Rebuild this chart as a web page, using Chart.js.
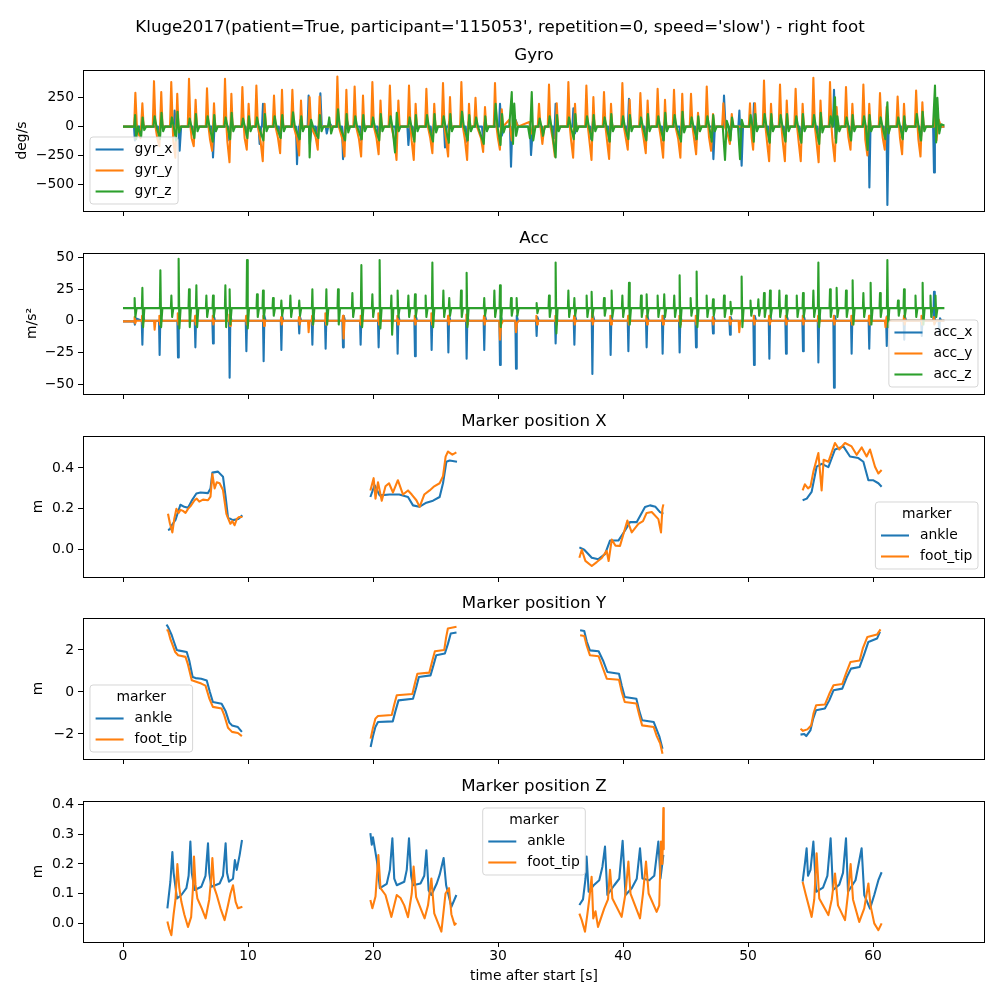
<!DOCTYPE html>
<html><head><meta charset="utf-8">
<script src="https://cdn.jsdelivr.net/npm/chart.js@4.4.0/dist/chart.umd.min.js"></script>
<style>
html,body{margin:0;padding:0;background:#fff;}
#fig{position:relative;width:1000px;height:1000px;overflow:hidden;background:#fff;}
canvas{position:absolute;left:0;}
</style></head><body><div id="fig"></div>
<script>
// ---------- DATA ----------
const xTicks = [0,10,20,30,40,50,60];
const xTickLabels = ['0','10','20','30','40','50','60'];
const gyroTicks = [250,0,-250,-500];
const gyroTickLabels = ['250','0','\u2212250','\u2212500'];
const accTicks = [50,25,0,-25,-50];
const accTickLabels = ['50','25','0','\u221225','\u221250'];
const posXTicks = [0.4,0.2,0.0];
const posXTickLabels = ['0.4','0.2','0.0'];
const posYTicks = [2,0,-2];
const posYTickLabels = ['2','0','\u22122'];
const posZTicks = [0.4,0.3,0.2,0.1,0.0];
const posZTickLabels = ['0.4','0.3','0.2','0.1','0.0'];

const gyrX = [[0,0],[0.88,0],[0.95,-120],[1.05,20],[1.15,0],[1.35,0],[1.42,-40],[1.55,30],[1.7,0],
[2.8,0],[2.9,-60],[3.05,40],[3.2,0],
[4.05,0],[4.13,140],[4.25,0],[4.45,0],[4.53,-209],[4.65,0],
[5.57,0],[5.65,-70],[5.8,40],[5.95,0],
[7.12,0],[7.2,-267],[7.32,0],
[8.42,0],[8.5,-120],[8.65,50],[8.8,0],
[9.82,0],[9.9,-80],[10.05,40],[10.2,0],
[10.85,0],[10.93,-150],[11.05,0],[11.12,0],[11.2,198],[11.35,0],
[12.47,0],[12.55,-90],[12.7,50],[12.85,0],
[13.84,0],[13.92,-326],[14.05,0],[14.12,0],[14.2,60],[14.35,0],
[14.77,0],[14.85,270],[14.95,-150],[15.1,0],[15.42,0],[15.5,-80],[15.6,0],[15.71,0],[15.79,290],[15.9,0],
[16.22,0],[16.3,-60],[16.5,40],[16.7,0],
[17.52,0],[17.6,-282],[17.75,0],[17.82,0],[17.9,60],[18.05,0],
[18.97,0],[19.05,-120],[19.2,40],[19.35,0],
[20.37,0],[20.45,-100],[20.6,50],[20.75,0],
[21.77,0],[21.85,-100],[22.0,40],[22.15,0],
[22.75,0],[22.83,-160],[22.95,0],[23.17,0],[23.25,-90],[23.4,40],[23.55,0],
[24.62,0],[24.7,-120],[24.9,40],[25.0,0],
[25.68,0],[25.76,-180],[25.9,0],[26.02,0],[26.1,40],[26.25,0],
[27.42,0],[27.5,-130],[27.65,40],[27.8,0],
[28.72,0],[28.8,-100],[28.95,40],[29.1,0],
[30.08,0],[30.16,198],[30.3,-80],[30.5,0],[30.96,0],[31.04,-349],[31.15,0],[31.32,0],[31.4,60],[31.6,0],[32.56,0],[32.64,-247],[32.8,0],
[33.52,0],[33.6,-60],[33.75,0],
[34.42,0],[34.5,-100],[34.61,198],[34.75,0],
[35.95,0],[36.03,160],[36.15,-60],[36.3,0],
[37.37,0],[37.45,-110],[37.6,50],[37.75,0],
[38.82,0],[38.9,-130],[39.05,40],[39.2,0],
[40.27,0],[40.35,-90],[40.48,241],[40.6,0],
[41.72,0],[41.8,-110],[41.95,40],[42.1,0],
[43.12,0],[43.2,-120],[43.35,40],[43.5,0],
[44.52,0],[44.6,-100],[44.75,40],[44.9,0],
[45.77,0],[45.85,-120],[46.0,30],[46.15,0],
[47.15,0],[47.23,-282],[47.35,0],
[48.0,0],[48.08,270],[48.2,0],[48.47,0],[48.55,-90],[48.7,0],
[49.23,0],[49.31,140],[49.49,-340],[49.6,0],
[50.4,0],[50.48,203],[50.6,0],
[51.62,0],[51.7,-130],[51.85,40],[52.0,0],
[52.87,0],[52.95,-120],[53.1,40],[53.25,0],
[54.12,0],[54.2,-120],[54.35,40],[54.5,0],
[55.57,0],[55.65,-130],[55.8,40],[55.95,0],
[56.8,0],[56.88,320],[57.0,-100],[57.15,0],
[58.12,0],[58.2,-100],[58.35,40],[58.5,0],
[59.64,0],[59.71,-529],[59.8,0],
[60.87,0],[60.95,-100],[61.08,0],[61.15,-680],[61.25,0],
[62.27,0],[62.35,-100],[62.5,40],[62.65,0],
[63.72,0],[63.8,-130],[63.95,40],[64.1,0],
[64.81,0],[64.88,-398],[64.95,0],[65.02,0],[65.1,150],[65.3,0],[65.71,0]];

const gyrY = [[0,0],[0.89,0],[0.99,294],[1.11,0],[1.23,-60],[1.40,-100],[1.55,203],[1.65,0],
[2.38,0],[2.48,395],[2.60,0],[2.74,-100],[2.91,-170],[3.06,300],[3.16,0],
[3.76,0],[3.86,387],[3.98,0],[4.02,-120],[4.19,-270],[4.34,285],[4.44,0],
[5.18,0],[5.28,416],[5.40,0],[5.49,-100],[5.66,-170],[5.81,233],[5.91,0],
[6.62,0],[6.72,334],[6.84,0],[6.96,-110],[7.13,-210],[7.28,203],[7.38,0],
[8.06,0],[8.16,416],[8.28,0],[8.35,-130],[8.52,-310],[8.67,285],[8.77,0],
[9.45,0],[9.55,343],[9.67,0],[9.73,-100],[9.90,-200],[10.05,198],[10.15,0],
[10.57,0],[10.67,358],[10.79,0],[11.01,-130],[11.18,-300],[11.33,198],[11.43,0],
[11.98,0],[12.08,270],[12.20,0],[12.40,-100],[12.57,-230],[12.72,320],[12.82,0],
[13.45,0],[13.55,320],[13.67,0],[13.92,-110],[14.09,-250],[14.24,227],[14.34,0],
[14.83,0],[14.93,256],[15.05,0],[15.41,-90],[15.58,-200],[15.73,262],[15.83,0],
[17.05,0],[17.15,436],[17.27,0],[17.55,-110],[17.72,-260],[17.87,320],[17.97,0],
[18.43,0],[18.53,349],[18.65,0],[18.88,-110],[19.05,-260],[19.20,270],[19.30,0],
[19.85,0],[19.95,387],[20.07,0],[20.28,-100],[20.45,-240],[20.60,227],[20.70,0],
[21.25,0],[21.35,358],[21.47,0],[21.71,-120],[21.88,-290],[22.03,227],[22.13,0],
[22.78,0],[22.88,358],[23.00,0],[23.09,-120],[23.26,-290],[23.41,198],[23.51,0],
[24.17,0],[24.27,328],[24.39,0],[24.58,-100],[24.75,-230],[24.90,198],[25.00,0],
[25.50,0],[25.60,378],[25.72,0],[25.84,-110],[26.01,-260],[26.16,256],[26.26,0],
[26.97,0],[27.07,387],[27.19,0],[27.36,-120],[27.53,-290],[27.68,198],[27.78,0],
[28.10,0],[28.20,250],[28.32,0],[28.64,-100],[28.81,-220],[28.96,170],[29.06,0],
[29.66,0],[29.76,378],[29.88,0],[29.98,-90],[30.15,-200],[30.30,150],[30.40,0],
[30.9,60],[31.1,-120],[31.3,80],[31.6,0],[32.5,40],[32.7,-60],[32.9,0],
[33.18,0],[33.28,198],[33.40,0],[33.55,-150],[33.70,0],
[33.98,0],[34.08,366],[34.20,0],[34.38,-110],[34.55,-260],[34.70,203],[34.80,0],
[35.53,0],[35.63,387],[35.75,0],[35.84,-110],[36.01,-270],[36.16,198],[36.26,0],
[36.97,0],[37.07,358],[37.19,0],[37.31,-120],[37.48,-290],[37.63,256],[37.73,0],
[38.38,0],[38.48,300],[38.60,0],[38.72,-120],[38.89,-280],[39.04,198],[39.14,0],
[39.85,0],[39.95,378],[40.07,0],[40.21,-90],[40.38,-200],[40.53,233],[40.63,0],
[41.29,0],[41.39,291],[41.51,0],[41.65,-100],[41.82,-230],[41.97,227],[42.07,0],
[42.67,0],[42.77,328],[42.89,0],[43.04,-110],[43.21,-270],[43.36,233],[43.46,0],
[43.98,0],[44.08,320],[44.20,0],[44.42,-110],[44.59,-270],[44.74,285],[44.84,0],
[45.34,0],[45.44,285],[45.56,0],[45.68,-100],[45.85,-240],[46.00,120],[46.10,0],
[46.60,0],[46.70,349],[46.82,0],[46.88,-90],[47.05,-210],[47.20,110],[47.30,0],
[47.93,0],[48.03,203],[48.15,0],[48.38,-70],[48.55,-150],[48.70,110],[48.80,0],
[50.06,0],[50.16,203],[50.24,0],[50.30,-100],[50.41,-200],[50.56,203],[50.66,0],
[51.18,0],[51.28,401],[51.40,0],[51.52,-130],[51.69,-300],[51.84,198],[51.94,0],
[52.46,0],[52.56,366],[52.68,0],[52.78,-130],[52.95,-300],[53.10,227],[53.20,0],
[53.71,0],[53.81,328],[53.93,0],[54.05,-130],[54.22,-300],[54.37,198],[54.47,0],
[55.13,0],[55.23,424],[55.35,0],[55.48,-130],[55.65,-310],[55.80,227],[55.90,0],
[56.46,0],[56.56,387],[56.68,0],[56.77,-130],[56.94,-300],[57.09,170],[57.19,0],
[57.74,0],[57.84,343],[57.96,0],[58.03,-90],[58.20,-200],[58.35,198],[58.45,0],
[59.13,0],[59.23,366],[59.35,0],[59.38,-110],[59.55,-250],[59.70,198],[59.80,0],
[60.46,0],[60.56,291],[60.68,0],[60.77,-90],[60.94,-200],[61.09,170],[61.19,0],
[61.87,0],[61.97,262],[62.09,0],[62.16,-100],[62.33,-240],[62.48,198],[62.58,0],
[63.35,0],[63.45,314],[63.57,0],[63.63,-110],[63.80,-260],[63.95,212],[64.05,0],
[64.86,0],[64.96,150],[65.08,-120],[65.25,60],[65.45,0],[65.71,0]];

const gyrZ = [[0,0],[0.9,0],[0.97,100],[1.05,-110],[1.2,0],[1.45,-90],[1.57,80],[1.7,-30],[1.85,0],
[2.43,0],[2.53,90],[2.68,0],[2.96,-110],[3.08,120],[3.21,-40],[3.36,0],
[3.81,0],[3.91,80],[4.06,0],[4.24,-120],[4.36,130],[4.49,-50],[4.64,0],
[5.23,0],[5.33,70],[5.48,0],[5.71,-100],[5.83,110],[5.96,-40],[6.11,0],
[6.67,0],[6.77,90],[6.92,0],[7.18,-130],[7.30,100],[7.43,-40],[7.58,0],
[8.11,0],[8.21,80],[8.36,0],[8.57,-110],[8.69,120],[8.82,-40],[8.97,0],
[9.50,0],[9.60,70],[9.75,0],[9.95,-100],[10.07,90],[10.20,-40],[10.35,0],
[10.62,0],[10.72,80],[10.87,0],[11.23,-120],[11.35,110],[11.48,-40],[11.63,0],
[12.03,0],[12.13,90],[12.28,0],[12.62,-100],[12.74,100],[12.87,-40],[13.02,0],
[13.50,0],[13.60,125],[13.75,0],[14.14,-110],[14.26,90],[14.39,-40],[14.54,0],
[14.88,0],[14.93,-267],[15.05,60],[15.2,0],[15.63,-100],[15.75,100],[15.88,-40],[16.03,0],
[16.4,0],[16.5,80],[16.65,-60],[16.8,0],
[17.10,0],[17.20,150],[17.35,0],[17.77,-120],[17.89,110],[18.02,-50],[18.17,0],
[18.48,0],[18.58,90],[18.73,0],[19.10,-110],[19.22,100],[19.35,-40],[19.50,0],
[19.90,0],[20.00,80],[20.15,0],[20.50,-120],[20.62,110],[20.75,-40],[20.90,0],
[21.30,0],[21.40,90],[21.55,0],[21.76,-224],[21.90,120],[22.05,-40],[22.20,0],
[22.83,0],[22.93,80],[23.08,0],[23.31,-130],[23.43,100],[23.56,-40],[23.71,0],
[24.22,0],[24.32,100],[24.47,0],[24.80,-130],[24.92,110],[25.05,-50],[25.20,0],
[25.55,0],[25.65,90],[25.80,0],[26.06,-140],[26.18,110],[26.31,-40],[26.46,0],
[27.02,0],[27.12,130],[27.27,0],[27.58,-120],[27.70,100],[27.83,-40],[27.98,0],
[28.15,0],[28.25,80],[28.40,0],[28.86,-150],[28.98,90],[29.11,-40],[29.26,0],
[29.71,0],[29.81,198],[29.96,0],[30.20,-160],[30.32,110],[30.45,-50],[30.60,0],
[30.9,0],[31.1,300],[31.2,-150],[31.3,200],[31.45,-80],[31.6,0],
[32.4,0],[32.55,-100],[32.7,300],[32.82,-120],[33.0,0],
[33.23,0],[33.33,70],[33.48,0],[33.6,-80],[33.75,0],
[34.03,0],[34.13,90],[34.28,0],[34.61,-267],[34.72,100],[34.85,-40],[35.0,0],
[35.58,0],[35.68,80],[35.83,0],[36.06,-110],[36.18,110],[36.31,-40],[36.46,0],
[37.02,0],[37.12,90],[37.27,0],[37.53,-120],[37.65,100],[37.78,-40],[37.93,0],
[38.43,0],[38.53,80],[38.68,0],[38.94,-130],[39.06,110],[39.19,-40],[39.34,0],
[39.90,0],[40.00,90],[40.15,0],[40.43,-110],[40.55,100],[40.68,-40],[40.83,0],
[41.34,0],[41.44,80],[41.59,0],[41.87,-120],[41.99,110],[42.12,-40],[42.27,0],
[42.72,0],[42.82,90],[42.97,0],[43.26,-120],[43.38,120],[43.51,-40],[43.66,0],
[44.03,0],[44.13,100],[44.28,0],[44.64,-130],[44.76,130],[44.89,-50],[45.04,0],
[45.39,0],[45.49,80],[45.64,0],[45.90,-110],[46.02,90],[46.15,-40],[46.30,0],
[46.65,0],[46.75,90],[46.90,0],[47.10,-130],[47.22,100],[47.35,-40],[47.50,0],
[47.98,0],[48.16,-290],[48.3,50],[48.45,0],[48.6,-120],[48.72,80],[48.85,0],
[49.2,0],[49.36,-282],[49.5,60],[49.65,0],
[50.11,0],[50.21,100],[50.36,0],[50.46,-130],[50.58,110],[50.71,-40],[50.86,0],
[51.23,0],[51.33,110],[51.48,0],[51.74,-140],[51.86,110],[51.99,-40],[52.14,0],
[52.51,0],[52.61,100],[52.76,0],[53.00,-130],[53.12,110],[53.25,-40],[53.40,0],
[53.76,0],[53.86,90],[54.01,0],[54.27,-140],[54.39,110],[54.52,-40],[54.67,0],
[55.18,0],[55.28,100],[55.43,0],[55.70,-150],[55.82,120],[55.95,-50],[56.10,0],
[56.51,0],[56.61,90],[56.76,0],[56.96,256],[57.05,-140],[57.15,90],[57.30,-40],[57.45,0],
[57.79,0],[57.89,80],[58.04,0],[58.25,-120],[58.37,100],[58.50,-40],[58.65,0],
[59.18,0],[59.28,90],[59.43,0],[59.57,-203],[59.72,100],[59.85,-40],[60.00,0],
[60.51,0],[60.61,80],[60.76,0],[60.99,-110],[61.15,212],[61.25,-60],[61.40,0],
[61.92,0],[62.02,80],[62.17,0],[62.38,-110],[62.50,90],[62.63,-40],[62.78,0],
[63.40,0],[63.50,110],[63.65,0],[63.85,-120],[63.97,130],[64.10,-40],[64.25,0],
[64.8,0],[64.96,358],[65.05,-137],[65.15,250],[65.3,-60],[65.45,20],[65.71,10]];

const accX = [[0,-0.5],[0.9,-0.5],[0.95,-3],[1.0,2],[1.5,0],[1.55,-19],[1.61,4],[1.71,0],[2.88,0],[2.93,-27],[2.99,4],[3.09,0],[4.35,0],[4.4,-29],[4.46,4],[4.56,0],[5.74,0],[5.79,-21],[5.85,4],[5.95,0],[7.15,0],[7.2,-18],[7.26,4],[7.36,0],[8.48,0],[8.53,-45],[8.59,4],[8.69,0],[9.82,0],[9.87,-24],[9.93,4],[10.03,0],[11.2,0],[11.25,-32],[11.31,4],[11.41,0],[12.62,0],[12.67,-23],[12.73,4],[12.83,0],[14.05,0],[14.1,-10],[14.16,3],[14.26,0],[15.1,0],[15.15,-19],[15.21,4],[15.31,0],[16.16,0],[16.21,-22],[16.27,4],[16.37,0],[17.55,0],[17.6,-21],[17.66,4],[17.76,0],[18.96,0],[19.01,-19],[19.07,4],[19.17,0],[20.4,0],[20.45,-21],[20.51,4],[20.61,0],[21.92,0],[21.97,-26],[22.03,4],[22.13,0],[23.31,0],[23.36,-28],[23.42,4],[23.52,0],[24.64,0],[24.69,-23],[24.75,4],[24.85,0],[25.98,0],[26.03,-25],[26.09,4],[26.19,0],[27.44,0],[27.49,-30],[27.55,4],[27.65,0],[28.85,0],[28.9,-23],[28.96,4],[29.06,0],[30.11,0],[30.16,-35],[30.22,4],[30.32,0],[31.39,0],[31.44,-38],[31.5,4],[31.6,0],[33.04,0],[33.09,-12],[33.15,3],[33.25,0],[34.56,0],[34.61,-18],[34.67,4],[34.77,0],[36.06,0],[36.11,-19],[36.17,4],[36.27,0],[37.5,0],[37.55,-42],[37.61,4],[37.71,0],[38.96,0],[39.01,-27],[39.07,4],[39.17,0],[40.38,0],[40.43,-24],[40.49,4],[40.59,0],[41.84,0],[41.89,-21],[41.95,4],[42.05,0],[43.12,0],[43.17,-26],[43.23,4],[43.33,0],[44.48,0],[44.53,-25],[44.59,4],[44.69,0],[45.79,0],[45.84,-21],[45.9,4],[46.0,0],[47.15,0],[47.2,-10],[47.26,3],[47.36,0],[48.51,0],[48.56,-11],[48.62,3],[48.72,0],[50.43,0],[50.48,-35],[50.54,4],[50.64,0],[51.66,0],[51.71,-30],[51.77,4],[51.87,0],[52.99,0],[53.04,-26],[53.1,4],[53.2,0],[54.35,0],[54.4,-24],[54.46,4],[54.56,0],[55.58,0],[55.63,-33],[55.69,4],[55.79,0],[56.83,0],[56.88,-53],[56.94,4],[57.04,0],[58.24,0],[58.29,-26],[58.35,4],[58.45,0],[59.65,0],[59.7,-22],[59.76,4],[59.86,0],[61.05,0],[61.1,-20],[61.16,4],[61.26,0],[62.45,0],[62.5,-15],[62.56,3],[62.66,0],[63.85,0],[63.9,-12],[63.96,3],[64.06,0],[64.83,0],[64.88,23],[64.94,-2],[65.04,0],[65.25,0],[65.3,-10],[65.36,2],[65.46,0],[65.71,0]];

const accY = [[0,-0.5],[0.9,-0.5],[0.93,3],[0.98,-2],[1.05,0],[1.5,0],[1.53,4],[1.58,-3],[1.65,0],[2.48,0],[2.53,-7],[2.6,0],[2.88,0],[2.91,4],[2.96,-3],[3.03,0],[4.35,0],[4.38,6],[4.43,-3],[4.5,0],[5.74,0],[5.77,4],[5.82,-3],[5.89,0],[7.15,0],[7.18,4],[7.23,-3],[7.3,0],[8.48,0],[8.51,5],[8.56,-4],[8.63,0],[9.82,0],[9.85,4],[9.9,-3],[9.97,0],[11.2,0],[11.23,4],[11.28,-4],[11.35,0],[12.62,0],[12.65,3],[12.7,-3],[12.77,0],[14.05,0],[14.08,3],[14.13,-3],[14.2,0],[14.8,0],[14.85,-9],[14.92,0],[15.1,0],[15.13,4],[15.18,-3],[15.25,0],[16.16,0],[16.19,6],[16.24,-3],[16.31,0],[17.55,0],[17.6,4],[17.65,-14],[17.72,0],[18.96,0],[18.99,4],[19.04,-3],[19.11,0],[20.4,0],[20.43,6],[20.48,-3],[20.55,0],[21.92,0],[21.95,4],[22.0,-3],[22.07,0],[23.31,0],[23.34,4],[23.39,-3],[23.46,0],[24.64,0],[24.67,6],[24.72,-3],[24.79,0],[25.98,0],[26.01,4],[26.06,-3],[26.13,0],[27.44,0],[27.47,5],[27.52,-3],[27.59,0],[28.85,0],[28.88,4],[28.93,-3],[29.0,0],[30.1,0],[30.16,-15],[30.25,-3],[30.4,0],[31.38,0],[31.44,-9],[31.52,-2],[31.65,0],[33.04,0],[33.07,4],[33.12,-3],[33.19,0],[34.56,0],[34.59,4],[34.64,-3],[34.71,0],[36.06,0],[36.09,4],[36.14,-3],[36.21,0],[37.5,0],[37.53,7],[37.58,-3],[37.65,0],[38.96,0],[38.99,4],[39.04,-3],[39.11,0],[40.38,0],[40.41,4],[40.46,-3],[40.53,0],[41.84,0],[41.87,4],[41.92,-3],[41.99,0],[43.12,0],[43.15,4],[43.2,-3],[43.27,0],[44.48,0],[44.51,4],[44.56,-3],[44.63,0],[45.79,0],[45.82,4],[45.87,-3],[45.94,0],[47.15,0],[47.18,3],[47.23,-3],[47.3,0],[48.51,0],[48.54,3],[48.59,-3],[48.66,0],[49.25,0],[49.3,-9],[49.38,0],[50.43,0],[50.46,4],[50.51,-3],[50.58,0],[51.66,0],[51.69,4],[51.74,-3],[51.81,0],[52.99,0],[53.02,4],[53.07,-3],[53.14,0],[54.35,0],[54.38,4],[54.43,-3],[54.5,0],[55.58,0],[55.61,4],[55.66,-3],[55.73,0],[56.83,0],[56.86,4],[56.91,-3],[56.98,0],[58.24,0],[58.27,4],[58.32,-3],[58.39,0],[59.65,0],[59.68,4],[59.73,-3],[59.8,0],[60.95,0],[61.0,-5],[61.08,3],[61.15,0],[62.45,0],[62.48,4],[62.53,-3],[62.6,0],[63.85,0],[63.88,4],[63.93,-3],[64.0,0],[64.83,0],[64.86,3],[64.91,-3],[64.98,0],[65.71,0]];

const accZ = [[0,10],[0.89,10],[0.93,18],[0.99,3],[1.09,10],[1.51,10],[1.55,26],[1.61,-5],[1.71,10],[2.95,10],[2.99,40],[3.05,-5],[3.15,10],[3.83,10],[3.87,20],[3.93,3],[4.03,10],[4.41,10],[4.45,49],[4.51,-6],[4.61,10],[5.24,10],[5.28,25],[5.34,-5],[5.44,10],[5.83,10],[5.87,28],[5.93,-5],[6.03,10],[6.63,10],[6.67,20],[6.73,3],[6.83,10],[7.16,10],[7.2,20],[7.26,3],[7.36,10],[8.15,10],[8.19,28],[8.25,-5],[8.35,10],[8.49,10],[8.53,25],[8.59,-3],[8.69,10],[9.88,10],[9.92,48],[9.98,-6],[10.08,10],[10.68,10],[10.72,21],[10.78,3],[10.88,10],[11.16,10],[11.2,24],[11.26,2],[11.36,10],[11.96,10],[12.0,18],[12.06,4],[12.16,10],[12.63,10],[12.67,16],[12.73,4],[12.83,10],[13.35,10],[13.39,20],[13.45,3],[13.55,10],[14.06,10],[14.1,16],[14.16,4],[14.26,10],[15.11,10],[15.15,25],[15.21,-3],[15.31,10],[16.23,10],[16.27,25],[16.33,-3],[16.43,10],[17.16,10],[17.2,25],[17.26,-3],[17.36,10],[18.31,10],[18.35,22],[18.41,3],[18.51,10],[19.03,10],[19.07,44],[19.13,-5],[19.23,10],[19.91,10],[19.95,21],[20.01,3],[20.11,10],[20.49,10],[20.53,48],[20.59,-6],[20.69,10],[21.43,10],[21.47,20],[21.53,-11],[21.63,10],[21.93,10],[21.97,24],[22.03,3],[22.13,10],[22.79,10],[22.83,20],[22.89,3],[22.99,10],[23.32,10],[23.36,21],[23.42,3],[23.52,10],[24.17,10],[24.21,20],[24.27,3],[24.37,10],[24.71,10],[24.75,46],[24.81,-5],[24.91,10],[25.59,10],[25.63,24],[25.69,3],[25.79,10],[26.06,10],[26.1,18],[26.16,4],[26.26,10],[27.0,10],[27.04,24],[27.1,3],[27.2,10],[27.45,10],[27.49,38],[27.55,-5],[27.65,10],[28.86,10],[28.9,18],[28.96,4],[29.06,10],[29.67,10],[29.71,24],[29.77,3],[29.87,10],[30.12,10],[30.16,28],[30.22,-5],[30.32,10],[31.0,10],[31.04,18],[31.1,4],[31.2,10],[31.45,10],[31.49,18],[31.55,4],[31.65,10],[33.05,10],[33.09,14],[33.15,6],[33.25,10],[34.04,10],[34.08,20],[34.14,3],[34.24,10],[34.57,10],[34.61,46],[34.67,-10],[34.77,10],[35.59,10],[35.63,24],[35.69,3],[35.79,10],[36.07,10],[36.11,18],[36.17,4],[36.27,10],[37.05,10],[37.09,20],[37.15,3],[37.25,10],[37.45,10],[37.49,23],[37.55,3],[37.65,10],[38.44,10],[38.48,18],[38.54,4],[38.64,10],[39.05,10],[39.09,24],[39.15,3],[39.25,10],[39.91,10],[39.95,20],[40.01,3],[40.11,10],[40.44,10],[40.48,30],[40.54,-3],[40.64,10],[41.4,10],[41.44,20],[41.5,3],[41.6,10],[41.85,10],[41.89,21],[41.95,3],[42.05,10],[42.73,10],[42.77,20],[42.83,3],[42.93,10],[43.26,10],[43.3,21],[43.36,3],[43.46,10],[44.06,10],[44.1,20],[44.16,3],[44.26,10],[44.49,10],[44.53,36],[44.59,-5],[44.69,10],[45.37,10],[45.41,18],[45.47,4],[45.57,10],[45.85,10],[45.89,39],[45.95,-5],[46.05,10],[46.65,10],[46.69,20],[46.75,3],[46.85,10],[47.16,10],[47.2,17],[47.26,4],[47.36,10],[48.04,10],[48.08,20],[48.14,3],[48.24,10],[48.56,10],[48.6,15],[48.66,5],[48.76,10],[49.45,10],[49.49,35],[49.55,-5],[49.65,10],[50.16,10],[50.2,16],[50.26,4],[50.36,10],[50.79,10],[50.83,17],[50.89,4],[50.99,10],[51.24,10],[51.28,22],[51.34,3],[51.44,10],[51.72,10],[51.76,24],[51.82,3],[51.92,10],[52.47,10],[52.51,24],[52.57,3],[52.67,10],[53.0,10],[53.04,20],[53.1,3],[53.2,10],[53.86,10],[53.9,20],[53.96,3],[54.06,10],[54.36,10],[54.4,22],[54.46,3],[54.56,10],[55.19,10],[55.23,24],[55.29,3],[55.39,10],[55.59,10],[55.63,46],[55.69,-5],[55.79,10],[56.52,10],[56.56,25],[56.62,3],[56.72,10],[57.05,10],[57.09,26],[57.15,3],[57.25,10],[57.8,10],[57.84,24],[57.9,3],[58.0,10],[58.33,10],[58.37,32],[58.43,-3],[58.53,10],[59.19,10],[59.23,22],[59.29,3],[59.39,10],[59.77,10],[59.81,30],[59.87,-3],[59.97,10],[60.52,10],[60.56,22],[60.62,3],[60.72,10],[61.11,10],[61.15,48],[61.21,-5],[61.31,10],[61.96,10],[62.0,16],[62.06,4],[62.16,10],[62.44,10],[62.48,25],[62.54,3],[62.64,10],[63.36,10],[63.4,20],[63.46,3],[63.56,10],[63.93,10],[63.97,30],[64.03,-3],[64.13,10],[64.56,10],[64.6,20],[64.66,3],[64.76,10],[64.96,10],[65.0,20],[65.06,3],[65.16,10],[65.71,10]];

const posXAnkle = [
 [[3.6,0.097],[3.75,0.1],[3.9,0.12],[4.2,0.146],[4.59,0.22],[4.9,0.21],[5.2,0.205],[5.5,0.24],[5.87,0.275],[6.2,0.28],[6.8,0.277],[7.0,0.3],[7.15,0.377],[7.6,0.382],[8.0,0.357],[8.21,0.259],[8.4,0.157],[8.8,0.145],[9.2,0.15],[9.55,0.168]],
 [[19.79,0.258],[20.13,0.316],[20.53,0.266],[21.33,0.27],[22.1,0.27],[22.8,0.258],[23.2,0.217],[23.7,0.21],[24.27,0.23],[24.8,0.24],[25.33,0.258],[25.6,0.325],[25.87,0.43],[26.13,0.436],[26.72,0.43]],
 [[36.51,0.012],[36.9,0.0],[37.5,-0.039],[38.03,-0.046],[38.56,-0.021],[38.96,0.045],[39.63,0.045],[40.16,0.094],[40.56,0.135],[41.09,0.135],[41.76,0.209],[42.16,0.217],[42.6,0.21],[42.96,0.184],[43.23,0.176]],
 [[54.37,0.242],[54.7,0.25],[55.09,0.283],[55.49,0.406],[55.9,0.42],[56.43,0.404],[56.96,0.49],[57.63,0.505],[58.16,0.456],[58.83,0.448],[59.23,0.43],[59.63,0.34],[60.0,0.34],[60.43,0.325],[60.69,0.308]]];
const posXFootTip = [
 [[3.6,0.176],[3.75,0.13],[3.95,0.085],[4.1,0.15],[4.27,0.2],[4.45,0.18],[4.6,0.195],[4.8,0.19],[5.0,0.18],[5.2,0.2],[5.39,0.212],[5.73,0.242],[5.9,0.25],[6.1,0.235],[6.4,0.245],[6.8,0.242],[7.0,0.26],[7.15,0.37],[7.33,0.3],[7.5,0.33],[7.73,0.325],[8.0,0.292],[8.27,0.176],[8.59,0.127],[8.75,0.14],[8.93,0.12],[9.1,0.15],[9.28,0.16],[9.55,0.16]],
 [[19.79,0.29],[20.05,0.35],[20.2,0.25],[20.4,0.33],[20.7,0.24],[21.0,0.31],[21.28,0.325],[21.6,0.28],[21.99,0.34],[22.4,0.27],[22.8,0.29],[23.1,0.27],[23.47,0.242],[23.73,0.21],[24.1,0.27],[24.53,0.29],[24.9,0.31],[25.33,0.325],[25.6,0.36],[25.81,0.455],[26.0,0.48],[26.35,0.465],[26.67,0.476]],
 [[36.51,-0.039],[36.7,0.0],[36.99,-0.054],[37.5,-0.079],[37.9,-0.06],[38.3,-0.04],[38.69,-0.005],[38.85,-0.055],[39.1,0.05],[39.4,0.02],[39.76,0.019],[40.35,0.143],[40.7,0.085],[41.23,0.127],[41.6,0.14],[41.89,0.18],[42.3,0.185],[42.83,0.15],[43.04,0.085],[43.15,0.2],[43.23,0.222]],
 [[54.37,0.29],[54.55,0.32],[54.8,0.3],[55.0,0.31],[55.23,0.382],[55.63,0.473],[55.89,0.29],[56.05,0.44],[56.43,0.43],[56.96,0.522],[57.3,0.49],[57.76,0.522],[58.29,0.505],[58.69,0.464],[59.1,0.5],[59.49,0.456],[59.76,0.49],[60.16,0.406],[60.43,0.373],[60.69,0.39]]];

const posYAnkle = [
 [[3.48,3.2],[3.6,3.1],[3.9,2.7],[4.08,2.38],[4.3,2.0],[4.41,1.98],[5.1,1.9],[5.3,1.5],[5.57,0.71],[5.8,0.66],[6.26,0.63],[6.7,0.55],[6.95,0.0],[7.19,-0.48],[7.89,-0.56],[8.2,-0.9],[8.5,-1.45],[8.72,-1.59],[9.19,-1.67],[9.51,-1.9]],
 [[19.81,-2.62],[20.0,-2.1],[20.19,-1.67],[20.4,-1.43],[21.58,-1.4],[21.8,-0.9],[22.04,-0.4],[23.2,-0.32],[23.45,0.2],[23.67,0.71],[24.6,0.79],[24.85,1.3],[25.06,1.75],[25.75,1.83],[26.0,2.3],[26.22,2.78],[26.68,2.83]],
 [[36.57,2.94],[36.9,2.9],[37.1,2.4],[37.35,1.98],[38.05,1.94],[38.4,1.5],[38.75,0.95],[39.68,0.87],[39.9,0.3],[40.14,-0.24],[41.07,-0.32],[41.3,-0.9],[41.53,-1.35],[42.46,-1.43],[42.7,-1.8],[42.92,-2.14],[43.16,-2.7]],
 [[54.2,-2.03],[54.5,-2.0],[54.66,-2.1],[54.99,-1.83],[55.2,-1.3],[55.45,-0.87],[56.15,-0.79],[56.5,-0.4],[56.84,0.08],[57.54,0.16],[57.9,0.7],[58.24,1.11],[58.93,1.19],[59.3,1.8],[59.63,2.38],[60.32,2.54],[60.56,2.86]]];
const posYFootTip = [
 [[3.48,2.94],[3.6,2.94],[3.8,2.5],[4.18,1.9],[4.41,1.75],[5.0,1.67],[5.2,1.3],[5.5,0.56],[6.26,0.4],[6.6,0.3],[6.9,-0.3],[7.19,-0.71],[7.89,-0.79],[8.1,-1.1],[8.4,-1.7],[8.72,-1.9],[9.19,-1.95],[9.51,-2.1]],
 [[19.81,-2.22],[20.0,-1.7],[20.19,-1.27],[20.4,-1.14],[21.5,-1.1],[21.7,-0.6],[21.9,-0.16],[23.15,-0.1],[23.35,0.4],[23.55,0.87],[24.5,0.92],[24.75,1.5],[24.95,1.94],[25.7,2.0],[25.85,2.6],[25.99,3.02],[26.68,3.1]],
 [[36.57,2.7],[36.9,2.66],[37.1,2.2],[37.35,1.75],[38.05,1.7],[38.35,1.2],[38.7,0.63],[39.68,0.58],[39.9,0.0],[40.14,-0.48],[41.07,-0.55],[41.3,-1.1],[41.53,-1.59],[42.46,-1.67],[42.7,-2.1],[42.98,-2.46],[43.16,-2.94]],
 [[54.2,-1.75],[54.4,-1.85],[54.75,-1.78],[55.05,-1.6],[55.25,-1.0],[55.45,-0.63],[56.15,-0.6],[56.5,-0.1],[56.84,0.32],[57.54,0.38],[57.85,0.9],[58.2,1.43],[58.93,1.5],[59.2,2.1],[59.55,2.62],[60.32,2.73],[60.6,2.98]]];

const posZAnkle = [
 [[3.55,0.05],[3.79,0.14],[3.95,0.24],[4.05,0.17],[4.32,0.083],[4.67,0.095],[5.07,0.118],[5.25,0.16],[5.39,0.276],[5.5,0.17],[5.73,0.112],[6.27,0.123],[6.6,0.16],[6.8,0.27],[6.9,0.17],[7.07,0.123],[7.73,0.134],[8.0,0.16],[8.21,0.27],[8.32,0.17],[8.48,0.14],[8.8,0.15],[8.95,0.213],[9.1,0.18],[9.33,0.23],[9.52,0.281]],
 [[19.79,0.304],[19.9,0.265],[20.0,0.29],[20.32,0.208],[20.55,0.118],[21.1,0.133],[21.35,0.18],[21.55,0.287],[21.7,0.15],[21.9,0.128],[22.5,0.14],[22.7,0.18],[22.88,0.287],[23.05,0.16],[23.2,0.128],[23.8,0.134],[24.1,0.16],[24.27,0.246],[24.45,0.11],[24.67,0.095],[25.1,0.134],[25.33,0.163],[25.65,0.22],[25.85,0.128],[26.27,0.055],[26.67,0.095]],
 [[36.51,0.061],[36.8,0.08],[37.0,0.15],[37.09,0.225],[37.25,0.106],[37.7,0.13],[38.1,0.145],[38.35,0.19],[38.56,0.259],[38.75,0.095],[39.3,0.128],[39.7,0.15],[39.97,0.278],[40.2,0.095],[40.7,0.118],[41.1,0.15],[41.36,0.253],[41.55,0.151],[42.1,0.145],[42.5,0.16],[42.83,0.276],[43.0,0.151],[43.23,0.231]],
 [[54.37,0.14],[54.55,0.2],[54.69,0.253],[54.8,0.16],[55.0,0.18],[55.23,0.276],[55.45,0.106],[56.0,0.12],[56.35,0.16],[56.61,0.287],[56.8,0.112],[57.3,0.13],[57.6,0.17],[57.84,0.287],[58.0,0.106],[58.6,0.145],[58.85,0.2],[59.09,0.253],[59.3,0.095],[59.76,0.049],[60.1,0.095],[60.43,0.145],[60.69,0.172]]];
const posZFootTip = [
 [[3.55,0.005],[3.7,-0.02],[3.87,-0.041],[4.05,0.03],[4.2,0.08],[4.35,0.2],[4.5,0.12],[4.67,0.072],[4.9,0.03],[5.2,-0.013],[5.45,0.02],[5.6,0.12],[5.68,0.225],[5.8,0.13],[5.95,0.083],[6.3,0.05],[6.61,0.016],[6.9,0.08],[7.05,0.15],[7.15,0.22],[7.3,0.12],[7.5,0.095],[7.8,0.05],[8.13,0.01],[8.4,0.06],[8.6,0.1],[8.8,0.128],[9.01,0.072],[9.2,0.05],[9.55,0.055]],
 [[19.79,0.078],[19.95,0.05],[20.2,0.09],[20.43,0.23],[20.6,0.118],[21.0,0.095],[21.47,0.021],[21.9,0.095],[22.2,0.085],[22.5,0.06],[22.8,0.02],[23.1,0.1],[23.25,0.191],[23.45,0.088],[24.13,0.016],[24.4,0.06],[24.67,0.151],[24.9,0.033],[25.47,-0.029],[25.8,0.1],[26.08,0.118],[26.27,0.03],[26.53,-0.006],[26.67,0.0]],
 [[36.51,0.032],[36.7,0.01],[36.96,-0.029],[37.15,0.03],[37.3,0.08],[37.49,0.157],[37.62,0.016],[37.8,0.04],[38.0,-0.013],[38.5,0.05],[38.8,0.08],[38.96,0.18],[39.15,0.083],[39.89,0.021],[40.2,0.1],[40.43,0.208],[40.6,0.1],[41.36,0.016],[41.6,0.1],[41.84,0.208],[42.05,0.1],[42.69,0.038],[42.9,0.06],[43.04,0.276],[43.15,0.2],[43.23,0.389],[43.26,0.25]],
 [[54.37,0.14],[54.6,0.1],[55.09,0.021],[55.3,0.08],[55.49,0.236],[55.7,0.083],[56.43,0.027],[56.7,0.08],[56.96,0.168],[57.2,0.06],[57.76,0.01],[58.0,0.1],[58.21,0.2],[58.4,0.08],[58.9,0.004],[59.3,0.05],[59.63,0.134],[59.8,0.06],[60.1,-0.001],[60.43,-0.024],[60.69,-0.001]]];

// ---------- RENDERING ----------
const BLUE='#1f77b4', ORANGE='#ff7f0e', GREEN='#2ca02c';
const FONT='"DejaVu Sans", sans-serif';
const LW=2.08;
function joinPasses(passes){ const out=[]; passes.forEach((p,i)=>{ if(i>0) out.push([ (passes[i-1][passes[i-1].length-1][0]+p[0][0])/2, null]); p.forEach(q=>out.push(q)); }); return out; }

const fig=document.getElementById('fig');
const PLOT_H=141, PAD_TOP=45;

function roundRectPath(ctx,x,y,w,h,r){ctx.beginPath();ctx.moveTo(x+r,y);ctx.lineTo(x+w-r,y);ctx.quadraticCurveTo(x+w,y,x+w,y+r);ctx.lineTo(x+w,y+h-r);ctx.quadraticCurveTo(x+w,y+h,x+w-r,y+h);ctx.lineTo(x+r,y+h);ctx.quadraticCurveTo(x,y+h,x,y+h-r);ctx.lineTo(x,y+r);ctx.quadraticCurveTo(x,y,x+r,y);ctx.closePath();}

function makePanel(p){
  const canvasTop = p.plotTop - p.padTop;
  const h = p.padTop + PLOT_H + p.xH;
  const c=document.createElement('canvas');
  c.width=1000; c.height=h; c.style.top=canvasTop+'px'; c.style.width='1000px'; c.style.height=h+'px';
  fig.appendChild(c);
  const overlay={ id:'overlay'+p.id, afterDraw(chart){
    const ctx=chart.ctx, a=chart.chartArea;
    ctx.save();
    ctx.strokeStyle='#000'; ctx.lineWidth=1;
    ctx.strokeRect(Math.round(a.left)+0.5, Math.round(a.top)+0.5, Math.round(a.right-a.left)-1, Math.round(a.bottom-a.top));
    ctx.translate(0,-canvasTop);
    ctx.fillStyle='#000'; ctx.textAlign='center'; ctx.textBaseline='middle';
    if(p.suptitle){ ctx.font='16.67px '+FONT; ctx.fillText(p.suptitle,500,28); }
    ctx.font='16.67px '+FONT; ctx.fillText(p.title,534,p.plotTop-14);
    ctx.font='13.9px '+FONT;
    ctx.save(); ctx.translate(p.ylabelX, p.plotTop+PLOT_H/2); ctx.rotate(-Math.PI/2); ctx.fillText(p.ylabel,0,0); ctx.restore();
    if(p.xlabel){ ctx.fillText(p.xlabel,534,976); }
    // legend
    const L=p.legend; const ds=chart.data.datasets;
    ctx.font='13.9px '+FONT;
    let tw=0; ds.forEach(d=>{tw=Math.max(tw,ctx.measureText(d.label).width);});
    const rows = ds.length + (L.title?1:0);
    let w = 5.6+28+11+tw+5.6;
    if(L.title){ w=Math.max(w, ctx.measureText(L.title).width+11.2); }
    const hgt = rows*21+4;
    let x0;
    if(L.align==='left') x0=90; else if(L.align==='right') x0=978-w; else x0=534-w/2;
    const y0 = L.top!==undefined ? L.top : L.bottom-hgt;
    ctx.globalAlpha=0.8; ctx.fillStyle='#fff'; roundRectPath(ctx,x0,y0,w,hgt,3); ctx.fill();
    ctx.strokeStyle='#cccccc'; ctx.lineWidth=1; ctx.stroke(); ctx.globalAlpha=1;
    let ry=y0+12.5;
    ctx.fillStyle='#000';
    if(L.title){ ctx.textAlign='center'; ctx.fillText(L.title,x0+w/2,ry); ry+=21; }
    ctx.textAlign='left';
    ds.forEach(d=>{ ctx.strokeStyle=d.borderColor; ctx.lineWidth=LW; ctx.beginPath(); ctx.moveTo(x0+5.6,ry); ctx.lineTo(x0+33.6,ry); ctx.stroke(); ctx.fillStyle='#000'; ctx.fillText(d.label,x0+44.6,ry); ry+=21; });
    ctx.restore();
  }};
  const tickFont={family:FONT,size:13.9};
  new Chart(c,{
    type:'line',
    data:{datasets:p.series.map((s,i)=>({label:s.label,data:s.data,borderColor:s.color,backgroundColor:s.color,borderWidth:LW,pointRadius:0,tension:0,fill:false,spanGaps:false,borderJoinStyle:'round',order:p.series.length-i}))},
    options:{
      responsive:false, animation:false, devicePixelRatio:1, events:[],
      layout:{padding:{top:p.padTop,left:0,right:15,bottom:0},autoPadding:false},
      plugins:{legend:{display:false},tooltip:{enabled:false},title:{display:false}},
      scales:{
        x:{type:'linear',min:-3.2,max:68.96,
          afterBuildTicks:s=>{s.ticks=xTicks.map(v=>({value:v}));},
          afterFit:s=>{s.height=p.xH;},
          ticks:{display:p.showX,color:'#000',font:tickFont,padding:1,maxRotation:0,autoSkip:false,callback:(v)=>xTickLabels[xTicks.indexOf(v)]},
          grid:{display:true,drawOnChartArea:false,drawTicks:true,tickLength:5,color:'#000',lineWidth:1},
          border:{display:false}},
        y:{type:'linear',position:'left',min:p.ymin,max:p.ymax,
          afterBuildTicks:s=>{s.ticks=p.yTicks.map(v=>({value:v}));},
          afterFit:s=>{s.width=83;},
          ticks:{color:'#000',font:tickFont,padding:4,autoSkip:false,callback:(v)=>p.yLabels[p.yTicks.indexOf(v)]},
          grid:{display:true,drawOnChartArea:false,drawTicks:true,tickLength:5,color:'#000',lineWidth:1},
          border:{display:false}}
      }
    },
    plugins:[overlay]
  });
}

const panels=[
 {id:1,plotTop:70,padTop:70,xH:25,showX:false,title:'Gyro',suptitle:"Kluge2017(patient=True, participant='115053', repetition=0, speed='slow') - right foot",
  ylabel:'deg/s',ylabelX:22,ymin:-733,ymax:492,yTicks:gyroTicks,yLabels:gyroTickLabels,
  series:[{label:'gyr_x',data:gyrX,color:BLUE},{label:'gyr_y',data:gyrY,color:ORANGE},{label:'gyr_z',data:gyrZ,color:GREEN}],
  legend:{align:'left',bottom:204}},
 {id:2,plotTop:253,padTop:PAD_TOP,xH:25,showX:false,title:'Acc',
  ylabel:'m/s\u00b2',ylabelX:32,ymin:-57.9,ymax:53.6,yTicks:accTicks,yLabels:accTickLabels,
  series:[{label:'acc_x',data:accX,color:BLUE},{label:'acc_y',data:accY,color:ORANGE},{label:'acc_z',data:accZ,color:GREEN}],
  legend:{align:'right',bottom:387}},
 {id:3,plotTop:436,padTop:PAD_TOP,xH:25,showX:false,title:'Marker position X',
  ylabel:'m',ylabelX:38,ymin:-0.133,ymax:0.556,yTicks:posXTicks,yLabels:posXTickLabels,
  series:[{label:'ankle',data:joinPasses(posXAnkle),color:BLUE},{label:'foot_tip',data:joinPasses(posXFootTip),color:ORANGE}],
  legend:{align:'right',bottom:569,title:'marker'}},
 {id:4,plotTop:618,padTop:PAD_TOP,xH:25,showX:false,title:'Marker position Y',
  ylabel:'m',ylabelX:38,ymin:-3.19,ymax:3.52,yTicks:posYTicks,yLabels:posYTickLabels,
  series:[{label:'ankle',data:joinPasses(posYAnkle),color:BLUE},{label:'foot_tip',data:joinPasses(posYFootTip),color:ORANGE}],
  legend:{align:'left',bottom:752,title:'marker'}},
 {id:5,plotTop:801,padTop:PAD_TOP,xH:60,showX:true,title:'Marker position Z',xlabel:'time after start [s]',
  ylabel:'m',ylabelX:38,ymin:-0.064,ymax:0.413,yTicks:posZTicks,yLabels:posZTickLabels,
  series:[{label:'ankle',data:joinPasses(posZAnkle),color:BLUE},{label:'foot_tip',data:joinPasses(posZFootTip),color:ORANGE}],
  legend:{align:'center',top:808,title:'marker'}}
];
panels.forEach(makePanel);
</script></body></html>
